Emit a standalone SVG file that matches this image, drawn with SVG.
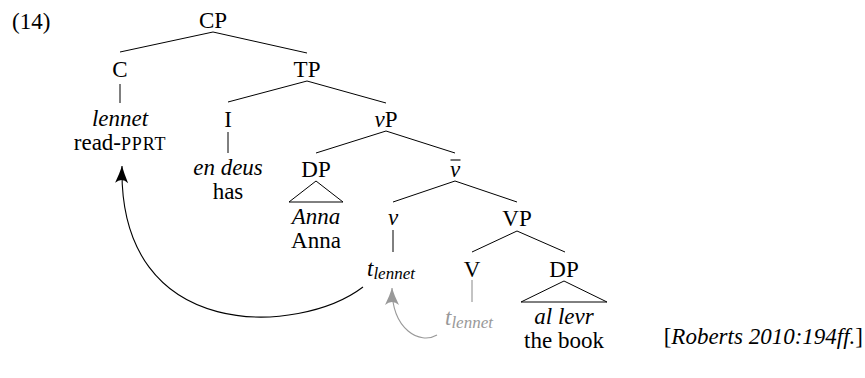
<svg xmlns="http://www.w3.org/2000/svg" width="865" height="378" viewBox="0 0 865 378">
<defs>
<style>
text{font-family:"Liberation Serif","Times New Roman",serif;font-size:23px;fill:#000}
.c{text-anchor:middle}
.i{font-style:italic}
.sub{font-size:17px;font-style:italic}
.sc{font-size:18px;letter-spacing:0.8px}
.gray{fill:#999}
.edge{stroke:#000;stroke-width:1;fill:none}
.arc{stroke:#000;stroke-width:1.1;fill:none}
.garc{stroke:#999;stroke-width:1.1;fill:none}
</style>
<marker id="ah" markerUnits="userSpaceOnUse" markerWidth="20" markerHeight="16" viewBox="-18 -8 20 16" refX="0" refY="0" orient="auto">
<path d="M0,0 Q-8,-2.5 -17,-6.5 Q-11,0 -17,6.5 Q-8,2.5 0,0Z" fill="#000"/>
</marker>
<marker id="gah" markerUnits="userSpaceOnUse" markerWidth="20" markerHeight="16" viewBox="-18 -8 20 16" refX="0" refY="0" orient="auto">
<path d="M0,0 Q-8,-2.5 -17,-7 Q-11,0 -17,7 Q-8,2.5 0,0Z" fill="#999"/>
</marker>
</defs>
<rect width="865" height="378" fill="#fff"/>
<g id="label14"><text x="12" y="29">(14)</text></g>
<g id="connectors">
<path class="edge" d="M213,32 L120,52 M213,32 L307,53"/>
<path class="edge" d="M120,84 L120,103"/>
<path class="edge" d="M307,81 L228,102 M307,81 L386,103"/>
<path class="edge" d="M228,132 L228,153"/>
<path class="edge" d="M386,131 L316,153 M386,131 L455,153"/>
<path class="edge" d="M316,181 L289,202 L343,202 Z"/>
<path class="edge" d="M455,181 L393,202 M455,181 L517,202"/>
<path class="edge" d="M393,230 L393,252"/>
<path class="edge" d="M517,231 L472,252 M517,231 L565,252"/>
<path class="edge" d="M472,280 L472,302" style="stroke:#888"/>
<path class="edge" d="M564,281 L521,302 L607,302 Z"/>
<path class="arc" d="M363,287 C300,335 118,345 122,166" marker-end="url(#ah)"/>
<path class="garc" d="M437,335 C420,345 392,330 392,288" marker-end="url(#gah)"/>
</g>
<g id="CP"><text class="c" x="213" y="28">CP</text></g>
<g id="C"><text class="c" x="120" y="77">C</text></g>
<g id="TP"><text class="c" x="307" y="77">TP</text></g>
<g id="lennet"><text class="c i" x="120" y="126">lennet</text><text class="c" x="120" y="150">read-<tspan class="sc">PPRT</tspan></text></g>
<g id="I"><text class="c" x="228" y="127">I</text></g>
<g id="vP"><text class="c" x="386" y="127"><tspan class="i">v</tspan>P</text></g>
<g id="endeus"><text class="c i" x="228" y="175">en deus</text><text class="c" x="228" y="199">has</text></g>
<g id="DP1"><text class="c" x="316" y="177">DP</text></g>
<g id="vbar"><text class="c i" x="455" y="177">v</text><line x1="450.5" y1="160" x2="460.5" y2="160" stroke="#000" stroke-width="1.1"/></g>
<g id="Anna"><text class="c i" x="316" y="224">Anna</text><text class="c" x="316" y="248">Anna</text></g>
<g id="v"><text class="c i" x="393" y="225">v</text></g>
<g id="VP"><text class="c" x="517" y="226">VP</text></g>
<g id="t1"><text x="367" y="276" class="i">t<tspan class="sub" dy="3">lennet</tspan></text></g>
<g id="V"><text class="c" x="472" y="277">V</text></g>
<g id="DP2"><text class="c" x="564" y="277">DP</text></g>
<g id="t2"><text x="445" y="325" class="i gray">t<tspan class="sub gray" dy="3">lennet</tspan></text></g>
<g id="allevr"><text class="c i" x="564" y="324">al levr</text><text class="c" x="564" y="348">the book</text></g>
<g id="cite"><text x="863" y="344" style="text-anchor:end">[<tspan class="i">Roberts 2010:194ff.</tspan>]</text></g>
</svg>
